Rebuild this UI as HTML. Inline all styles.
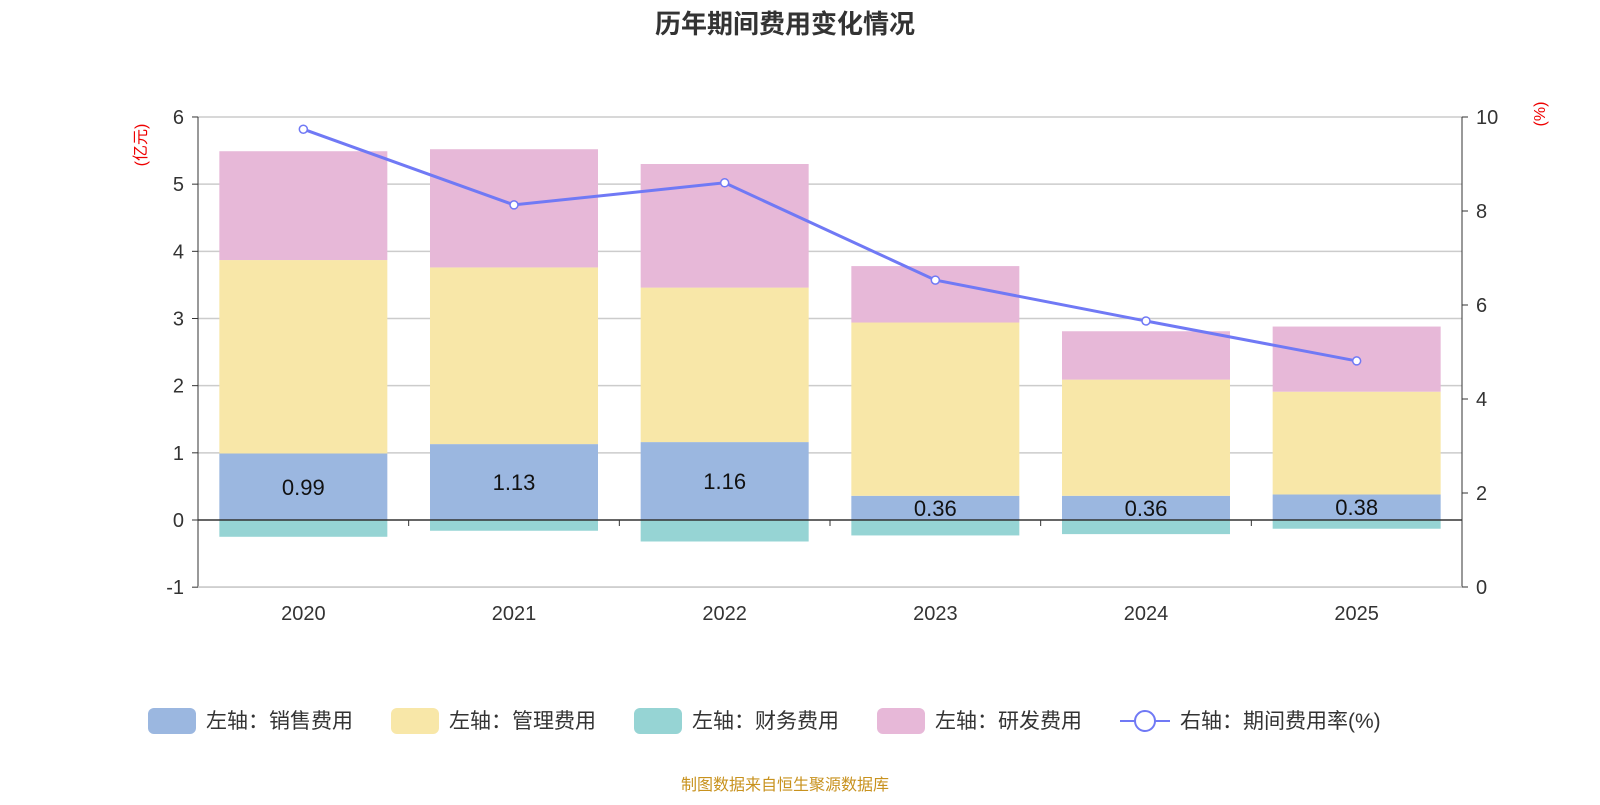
<!DOCTYPE html>
<html><head><meta charset="utf-8"><style>
body{margin:0;background:#fff;width:1600px;height:800px;overflow:hidden;font-family:"Liberation Sans","Noto Sans CJK SC",sans-serif}
</style></head><body>
<svg id="c" width="1600" height="800" xmlns="http://www.w3.org/2000/svg">
<text x="785" y="33" text-anchor="middle" font-size="26" font-weight="bold" fill="#333">历年期间费用变化情况</text>
<text x="146" y="145" font-size="16" fill="#e00" transform="rotate(-90 146 145)" text-anchor="middle">(亿元)</text>
<text x="1545" y="114" font-size="16" fill="#e00" transform="rotate(-90 1545 114)" text-anchor="middle">(%)</text>
<g id="g"></g>
<text x="785" y="790" text-anchor="middle" font-size="16" fill="#c8921e">制图数据来自恒生聚源数据库</text>
</svg>
<script>
const years=["2020","2021","2022","2023","2024","2025"];
const sales=[0.99,1.13,1.16,0.36,0.36,0.38];
const mgmt=[2.88,2.63,2.30,2.58,1.73,1.53];
const fin=[-0.25,-0.16,-0.32,-0.23,-0.21,-0.13];
const rnd=[1.62,1.76,1.84,0.84,0.72,0.97];
const rate=[9.74,8.13,8.6,6.53,5.66,4.81];
const leftTicks=[-1,0,1,2,3,4,5,6];
const rightTicks=[0,2,4,6,8,10];
const NS="http://www.w3.org/2000/svg",g=document.getElementById('g');
const X0=198,X1=1462,bw=(X1-X0)/years.length;
const yL=v=>520-v*67.17, yR=v=>587-v*47;
function mk(t,a){const e=document.createElementNS(NS,t);for(const k in a)e.setAttribute(k,a[k]);g.appendChild(e);return e;}
leftTicks.forEach(v=>{
 if(v!==0){const l=mk('line',{x1:X0,x2:X1,y1:yL(v),y2:yL(v),stroke:'#ccc','stroke-width':1.5});
 }
 const t=mk('text',{x:184,y:yL(v)+7,'text-anchor':'end','font-size':20,fill:'#333'});t.textContent=v;
 
});
rightTicks.forEach(v=>{
 mk('line',{x1:X1,x2:X1+6,y1:yR(v),y2:yR(v),stroke:'#333'});
 const t=mk('text',{x:1476,y:yR(v)+7,'font-size':20,fill:'#333'});t.textContent=v;
 
});
mk('line',{x1:X0,x2:X0,y1:117,y2:587,stroke:'#333'});
mk('line',{x1:X1,x2:X1,y1:117,y2:587,stroke:'#333'});
mk('line',{x1:X0,x2:X1,y1:587,y2:587,stroke:'#ccc','stroke-width':1.5});
for(let v of leftTicks)mk('line',{x1:X0-6,x2:X0,y1:yL(v),y2:yL(v),stroke:'#333'});
function rect(x,a,b,fill,name){const r=mk('rect',{x:x,width:168,y:Math.min(yL(a),yL(b)),height:Math.abs(yL(a)-yL(b)),fill:fill});
 }
years.forEach((y,i)=>{
 const x=X0+bw*i+(bw-168)/2;
 rect(x,0,sales[i],'#9bb7e0','bar-sales-'+y);
 rect(x,sales[i],sales[i]+mgmt[i],'#f8e7a8','bar-mgmt-'+y);
 rect(x,0,fin[i],'#96d4d4','bar-finance-'+y);
 rect(x,sales[i]+mgmt[i],sales[i]+mgmt[i]+rnd[i],'#e7b8d8','bar-rnd-'+y);
 const t=mk('text',{x:x+84,y:(yL(0)+yL(sales[i]))/2+8,'text-anchor':'middle','font-size':22,fill:'#111'});t.textContent=sales[i].toFixed(2);
 
 const xl=mk('text',{x:X0+bw*(i+0.5),y:620,'text-anchor':'middle','font-size':20,fill:'#333'});xl.textContent=y;
 
});
mk('line',{x1:X0,x2:X1,y1:520,y2:520,stroke:'#333','stroke-width':1.5});
for(let i=0;i<=years.length;i++)mk('line',{x1:X0+bw*i,x2:X0+bw*i,y1:520,y2:526,stroke:'#333'});
const pts=rate.map((v,i)=>[X0+bw*(i+0.5),yR(v)]);
const pl=mk('polyline',{points:pts.map(p=>p.join(',')).join(' '),fill:'none',stroke:'#7079f5','stroke-width':3});

pts.forEach(p=>{const c=mk('circle',{cx:p[0],cy:p[1],r:4,fill:'#fff',stroke:'#7079f5','stroke-width':1.5});
 });
const leg=[["#9bb7e0","左轴：销售费用",148],["#f8e7a8","左轴：管理费用",391],["#96d4d4","左轴：财务费用",634],["#e7b8d8","左轴：研发费用",877]];
leg.forEach(l=>{const r=mk('rect',{x:l[2],y:708,width:48,height:26,rx:6,fill:l[0]});
 
 const t=mk('text',{x:l[2]+58,y:728,'font-size':21,fill:'#333'});t.textContent=l[1];
 });
mk('line',{x1:1120,x2:1170,y1:721,y2:721,stroke:'#7079f5','stroke-width':2});
mk('circle',{cx:1145,cy:721,r:10,fill:'#fff',stroke:'#7079f5','stroke-width':2});
const lt=mk('text',{x:1180,y:728,'font-size':21,fill:'#333'});lt.textContent='右轴：期间费用率(%)';

</script></body></html>
